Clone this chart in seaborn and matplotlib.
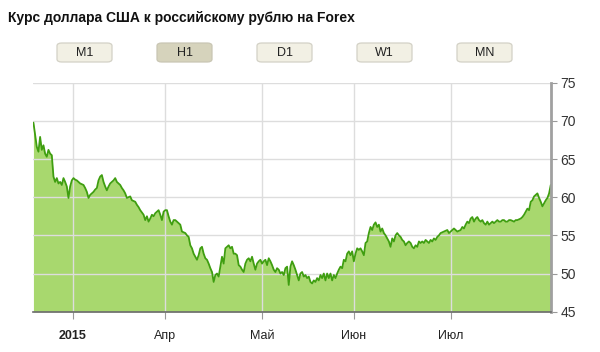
import numpy as np
import pandas as pd
import matplotlib
matplotlib.use("Agg")
import matplotlib.pyplot as plt
from matplotlib.patches import FancyBboxPatch
import seaborn as sns

title = "Курс доллара США к российскому рублю на Forex"
buttons = ["M1", "H1", "D1", "W1", "MN"]
active_button = "H1"

# sampling interval in trading days (~9 hours)
STEP_DAYS = 0.38

rate = [
    # Feb-Mar
    69.76, 68.15, 66.6, 65.96, 67.9, 66.2, 66.8, 65.7, 65.3, 66.2, 65.7, 65.5,
    62.7, 62.0, 62.5, 61.8, 62.0, 61.6, 62.5, 62.0, 61.4, 59.9, 61.4, 62.2,
    62.5, 62.3, 62.2, 62.0, 61.8, 61.7, 61.6, 61.2, 60.7, 59.9, 60.3, 60.5,
    60.7, 61.0, 61.2, 62.2, 62.7, 62.9, 62.0, 61.4, 60.9, 61.4, 61.8, 62.0,
    62.2, 62.5, 62.0, 61.8, 61.6, 61.2, 60.9, 60.5, 59.9, 60.0, 60.1, 59.6,
    59.5, 59.4, 59.0, 58.7,
    # Mar-Apr
    58.3, 58.0, 57.7, 57.0, 57.5, 56.8, 57.2, 57.7, 57.5, 57.9, 58.1, 58.3,
    57.7, 57.0, 58.1, 58.3, 58.3, 57.5, 56.8, 56.4, 57.0, 57.0, 56.8, 56.6,
    56.4, 55.5, 55.4, 55.3, 55.0, 54.8, 53.7, 53.3, 52.6, 52.2, 51.8, 52.4,
    53.3, 53.5, 52.6, 52.0, 51.8, 51.3, 50.7, 50.2, 48.9, 49.8, 50.0, 49.6,
    50.9, 52.2, 51.3, 53.3, 53.5, 53.7, 53.3, 53.5, 52.6, 52.6, 52.4, 51.1,
    # Apr-May
    50.9, 50.5, 50.2, 51.3, 51.8, 52.0, 51.6, 52.2, 51.3, 50.5, 51.3, 51.6,
    51.8, 51.3, 51.6, 51.8, 51.1, 52.0, 51.6, 51.1, 50.5, 50.2, 50.7, 50.5,
    50.0, 50.2, 49.8, 50.7, 50.9, 48.5, 50.9, 51.6, 51.1, 50.5, 49.8, 49.1,
    50.0, 50.2, 49.6, 49.8, 49.4, 49.6, 48.9, 48.7, 49.1, 48.9, 49.4, 49.1,
    49.8, 49.4, 50.0, 49.1, 50.0, 49.4, 50.0, 49.1, 49.8, 49.4, 50.0, 50.5,
    # May-Jun
    50.9, 50.7, 51.8, 51.6, 52.6, 52.9, 52.4, 52.9, 51.6, 52.6, 53.3, 53.1,
    53.3, 52.9, 52.4, 54.0, 54.2, 55.3, 56.1, 55.7, 56.4, 56.7, 56.1, 56.4,
    55.5, 55.9, 55.3, 55.0, 54.6, 54.2, 53.5, 54.6, 54.2, 55.0, 55.3, 55.0,
    54.8, 54.4, 54.2, 53.7, 54.0, 54.2, 54.0, 53.5, 53.3, 53.7, 53.5, 54.2,
    54.0, 54.2, 54.0, 54.4, 54.2, 54.0, 54.4, 54.2, 54.6, 54.4, 54.8, 55.0,
    # Jul
    55.3, 55.4, 55.5, 55.6, 55.7, 55.3, 55.5, 55.7, 55.9, 55.7, 55.5, 55.6,
    55.7, 56.1, 55.9, 56.4, 56.8, 56.6, 57.2, 57.4, 56.8, 57.2, 57.4, 57.0,
    56.8, 57.0, 56.6, 56.4, 56.8, 56.4, 56.6, 56.8, 56.6, 56.8, 57.0, 56.8,
    56.8, 57.0, 57.0, 56.8, 56.8, 57.0, 57.0, 56.9, 56.8, 57.0, 57.0, 57.1,
    57.2, 57.4, 57.7, 58.1, 58.5, 58.3, 59.4, 59.6, 60.1, 60.3, 60.5, 59.9,
    59.4, 58.8, 59.2, 59.6, 59.9, 60.5, 61.6,
]

tick_days = [9, 30, 52, 73, 95]
tick_labels = ["2015", "Апр", "Май", "Июн", "Июл"]
y_ticks = [45, 50, 55, 60, 65, 70, 75]

df = pd.DataFrame({"day": np.arange(len(rate)) * STEP_DAYS, "rate": rate})

sns.set_style("white")
plt.rcParams["font.family"] = ["Liberation Sans", "DejaVu Sans"]

fig = plt.figure(figsize=(6.0, 3.52), dpi=100)
ax = fig.add_axes([0.055, 0.1145, 0.8633, 0.6506])

FILL = "#a8d86e"
LINE = "#3f9e10"

ax.fill_between(df["day"], df["rate"], 45, color=FILL, lw=0, zorder=2)
sns.lineplot(data=df, x="day", y="rate", ax=ax, color=LINE, lw=1.3, zorder=3)

ax.set_xlim(-0.1, df["day"].iloc[-1] + 0.05)
ax.set_ylim(45, 75)
ax.set_xlabel("")
ax.set_ylabel("")

ax.yaxis.tick_right()
ax.set_yticks(y_ticks)
ax.set_yticklabels([str(v) for v in y_ticks])
ax.set_xticks(tick_days)
ax.set_xticklabels(tick_labels)
for lbl in ax.get_xticklabels():
    if lbl.get_text() == "2015":
        lbl.set_fontweight("bold")

ax.tick_params(axis="y", which="both", right=True, left=False, length=4,
               width=0.8, color="#999999", labelsize=10, labelcolor="#333333", pad=3)
ax.tick_params(axis="x", which="both", bottom=True, length=5, width=0.8,
               color="#999999", labelsize=9, labelcolor="#222222", pad=8)

ax.grid(True, color="#dddddd", lw=1.0, zorder=1)
ax.set_axisbelow(False)
for gl in ax.get_xgridlines() + ax.get_ygridlines():
    gl.set_zorder(1)

for side in ["left", "top"]:
    ax.spines[side].set_visible(False)
ax.spines["right"].set_color("#a0a0a0")
ax.spines["right"].set_linewidth(2.0)
ax.spines["bottom"].set_color("#6a6a6a")
ax.spines["bottom"].set_linewidth(1.2)
ax.spines["right"].set_zorder(4)
ax.spines["bottom"].set_zorder(4)

fig.text(8 / 600, 1 - 18 / 352, title, fontsize=10, fontweight="bold",
         color="#111111", va="center", ha="left")

bw, bh = 55 / 600, 19 / 352
for i, name in enumerate(buttons):
    x0 = (57 + 100 * i) / 600
    y0 = 1 - 62 / 352
    active = name == active_button
    patch = FancyBboxPatch((x0, y0), bw, bh,
                           boxstyle="round,pad=0,rounding_size=0.008",
                           transform=fig.transFigure,
                           facecolor="#d6d3bc" if active else "#f2f0e4",
                           edgecolor="#c9c6b4" if active else "#d3d1c6",
                           lw=0.9)
    fig.patches.append(patch)
    fig.text(x0 + bw / 2, y0 + bh / 2, name, ha="center", va="center",
             fontsize=9, color="#222222")

fig.savefig("out.png", dpi=100, facecolor="white")
